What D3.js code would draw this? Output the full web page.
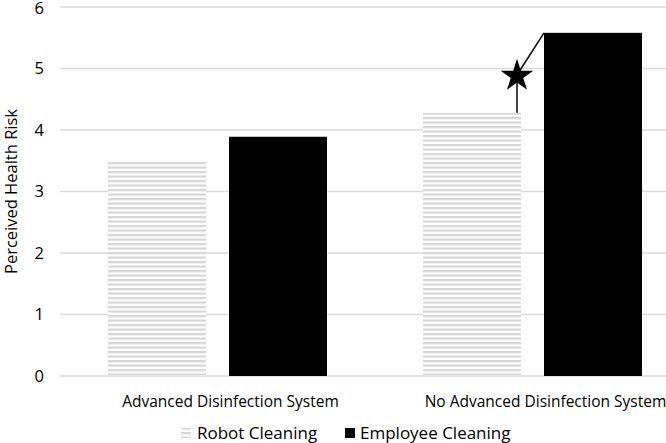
<!DOCTYPE html>
<html><head><meta charset="utf-8">
<script src="https://cdn.jsdelivr.net/npm/d3@7"></script>
<style>body{margin:0;background:#fff}svg{display:block}text{font-family:"Open Sans",sans-serif;fill:#000}</style>
</head><body>
<svg id="c" width="666" height="443"></svg>
<script>
const categories = ["Advanced Disinfection System", "No Advanced Disinfection System"];
const seriesNames = ["Robot Cleaning", "Employee Cleaning"];
const robotValues = [3.51, 4.28];
const employeeValues = [3.89, 5.58];
const yTicks = [0, 1, 2, 3, 4, 5, 6];

(function(){
const svg = d3.select("#c");
const W = 666, H = 443;
const mLeft = 60, mTop = 7, mBottom = 376;

const defs = svg.append("defs");
const pat = defs.append("pattern").attr("id","stripes").attr("patternUnits","userSpaceOnUse")
  .attr("width",8).attr("height",4.5);
pat.append("rect").attr("width",8).attr("height",4.5).attr("fill","#fff");
pat.append("rect").attr("y",0).attr("width",8).attr("height",2.2).attr("fill","#d6d6d6");

const y = d3.scaleLinear().domain([0,6]).range([mBottom, mTop]);
const x0 = d3.scaleBand().domain(categories).range([mLeft, mLeft+630]).paddingInner(0).paddingOuter(0);

// grid
svg.append("g").selectAll("line").data(yTicks).join("line")
  .attr("x1", mLeft).attr("x2", W).attr("y1", d=>y(d)).attr("y2", d=>y(d))
  .attr("stroke", "#d9d9d9").attr("stroke-width", 1.3);

// y labels
svg.append("g").selectAll("text").data(yTicks).join("text")
  .attr("x", 44).attr("y", d=>Math.max(y(d), 8.5)).attr("dy","0.35em").attr("text-anchor","end")
  .attr("font-size", 16.5).text(d=>d);

svg.append("text").attr("transform", `translate(17,${(mTop+mBottom)/2}) rotate(-90)`)
  .attr("text-anchor","middle").attr("font-size",16.5).text("Perceived Health Risk");

const data = categories.map((c,i)=>({cat:c, vals:[robotValues[i], employeeValues[i]]}));
const bw = 98;
const g = svg.append("g");
data.forEach((d,i)=>{
  const cx = x0(d.cat) + x0.bandwidth()/2;
  const xs = [cx - 11.5 - bw, cx + 11.5];
  d.vals.forEach((v,j)=>{
    g.append("rect").attr("x", xs[j]).attr("y", y(v)).attr("width", bw).attr("height", y(0)-y(v))
      .attr("fill", j===0 ? "url(#stripes)" : "#000");
  });
  d.xs = xs;
});

// x labels
svg.append("g").selectAll("text").data(categories).join("text")
  .attr("x", d=>x0(d)+x0.bandwidth()/2 + 13).attr("y", 407).attr("text-anchor","middle")
  .attr("font-size", 15.5).text(d=>d);

// annotation star
const d2 = data[1];
const sx = d2.xs[0] + bw - 4, sy = 75;
svg.append("line").attr("x1", sx).attr("x2", sx).attr("y1", y(d2.vals[0])).attr("y2", sy)
  .attr("stroke","#111").attr("stroke-width",1.6);
svg.append("line").attr("x1", sx).attr("y1", sy).attr("x2", d2.xs[1]).attr("y2", y(d2.vals[1]))
  .attr("stroke","#111").attr("stroke-width",1.6);
svg.append("path").attr("d", d3.symbol(d3.symbolStar, 330)()).attr("transform",`translate(${sx},${sy+1})`).attr("fill","#000");

// legend
const lg = svg.append("g");
lg.append("rect").attr("x",181).attr("y",428).attr("width",10).attr("height",10).attr("fill","url(#stripes)");
lg.append("text").attr("x",197).attr("y",439).attr("font-size",17).text(seriesNames[0]);
lg.append("rect").attr("x",345).attr("y",428).attr("width",10).attr("height",10).attr("fill","#000");
lg.append("text").attr("x",360).attr("y",439).attr("font-size",17).text(seriesNames[1]);
})();
</script>
</body></html>
